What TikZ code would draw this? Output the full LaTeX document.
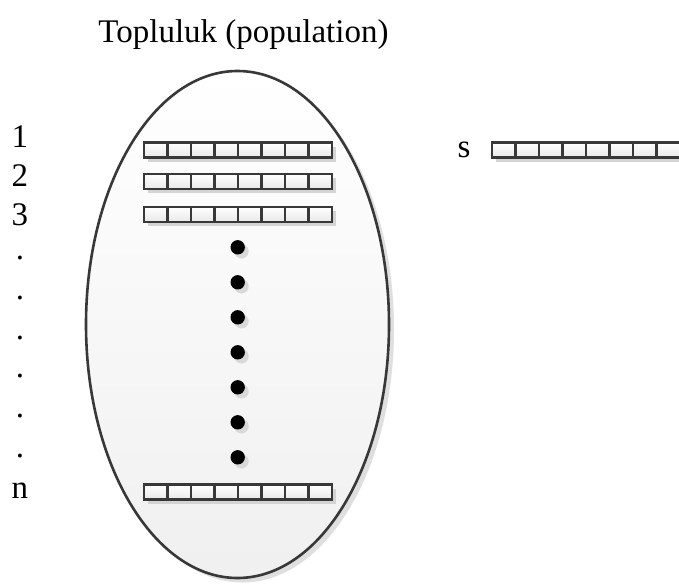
\documentclass[tikz,border=0pt]{standalone}
\usepackage{fontspec}
\setmainfont{Liberation Serif}
\definecolor{edge}{HTML}{383838}
\definecolor{shade}{HTML}{D4D4D4}
\begin{document}
\begin{tikzpicture}[x=1pt,y=-1pt,
  lbl/.style={font=\fontsize{33}{40}\selectfont,inner sep=0pt,anchor=base},
  cell/.style={draw=edge,line width=2.6pt,top color=white,bottom color=gray!18},
  cellshadow/.style={fill=shade,draw=none},
  bigdot/.style={fill=black,draw=none}]
\fill[white] (0,0) rectangle (679,586);
\useasboundingbox (0,0) rectangle (679,586);
% ellipse with shadow
\fill[gray!25] (242.5,329) ellipse [x radius=151.5,y radius=253.5];
\shade[top color=white,bottom color=gray!12] (237.5,324.5) ellipse [x radius=151.5,y radius=253.5];
\draw[edge,line width=2.6pt] (237.5,324.5) ellipse [x radius=151.5,y radius=253.5];
% title
\node[lbl] (title) at (243.5,42) {Topluluk (population)};
% left labels
\node[lbl] (l1) at (20,147) {1};
\node[lbl] (l2) at (20,186) {2};
\node[lbl] (l3) at (20,225) {3};
\node[lbl] (d1) at (20,259) {.};
\node[lbl] (d2) at (20,299) {.};
\node[lbl] (d3) at (20,339) {.};
\node[lbl] (d4) at (20,377) {.};
\node[lbl] (d5) at (20,417) {.};
\node[lbl] (d6) at (20,457) {.};
\node[lbl] (ln) at (20,498) {n};
\node[lbl] (ls) at (464,157) {s};
% chromosome rows
\foreach \x/\yc in {144/150,144/181.5,144/214.5,144/492,492/150}{
  \foreach \i in {0,...,7}{
    \fill[cellshadow] (\x+\i*23.5+4,\yc-7.5+4) rectangle ++(23.5,15);
  }
  \foreach \i in {0,...,7}{
    \path[cell] (\x+\i*23.5,\yc-7.5) rectangle ++(23.5,15);
  }
}
% dots
\foreach \y in {247.3,282.3,317.3,352.3,387.3,422.3,457.3}{
  \fill[gray!30] (241.5,\y+4) circle (7.2);
  \fill[bigdot] (237.7,\y) circle (7.2);
}
\end{tikzpicture}
\end{document}
